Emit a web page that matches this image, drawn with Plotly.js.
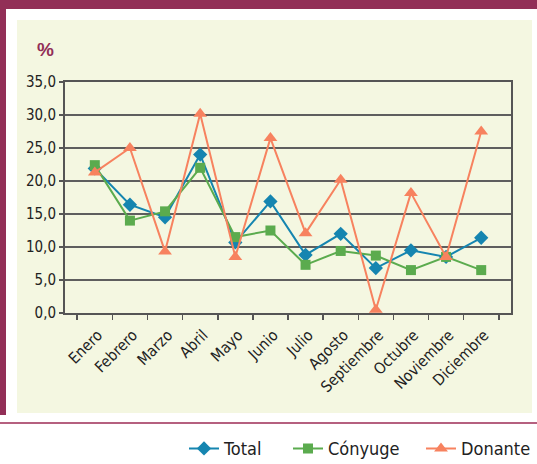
<!DOCTYPE html>
<html><head><meta charset="utf-8">
<script src="https://cdn.plot.ly/plotly-3.0.1.min.js"></script>
<style>
body{margin:0;padding:0;width:537px;height:464px;position:relative;background:#fff;overflow:hidden;font-family:"DejaVu Sans Condensed",sans-serif;}
#topbar{position:absolute;left:0;top:0;width:537px;height:9px;background:#922f57;}
#leftbar{position:absolute;left:0;top:0;width:6px;height:415px;background:#922f57;}
#cream{position:absolute;left:17px;top:20px;width:515px;height:393px;background:#f4f7e1;}
#rule{position:absolute;left:0;top:422px;width:537px;height:2px;background:#b5607f;}
#pct{position:absolute;left:37px;top:39px;color:#922f57;font-weight:bold;font-size:19px;font-family:"Liberation Sans",Arial,sans-serif;}
#chart{position:absolute;left:0;top:0;width:537px;height:464px;}
</style></head>
<body>
<div id="topbar"></div><div id="leftbar"></div><div id="cream"></div><div id="rule"></div>
<div id="pct">%</div>
<div id="chart"></div>
<script>
const months = ["Enero","Febrero","Marzo","Abril","Mayo","Junio","Julio","Agosto","Septiembre","Octubre","Noviembre","Diciembre"];
const total =   [21.9,16.4,14.5,24.0,10.7,16.9,8.8,12.0,6.8,9.5,8.5,11.4];
const conyuge = [22.4,14.0,15.4,22.0,11.5,12.5,7.3,9.4,8.7,6.5,8.5,6.5];
const donante = [21.3,25.0,9.3,30.2,8.5,26.5,12.1,20.2,0.5,18.2,8.5,27.5];
const yTicks = [0,5,10,15,20,25,30,35];
const yTickText = yTicks.map(v => v.toFixed(1).replace('.', ','));

const font = '"DejaVu Sans Condensed",sans-serif';
const traces = [
  {x: months, y: total, name: "Total", type: "scatter", mode: "lines+markers", legend: "legend",
   line: {color: "#1585b0", width: 2}, marker: {symbol: "diamond", size: 11, color: "#1585b0"}},
  {x: months, y: conyuge, name: "Cónyuge", type: "scatter", mode: "lines+markers", legend: "legend2",
   line: {color: "#5bab4e", width: 2}, marker: {symbol: "square", size: 10, color: "#5bab4e"}},
  {x: months, y: donante, name: "Donante", type: "scatter", mode: "lines+markers", legend: "legend3",
   line: {color: "#f7825f", width: 2}, marker: {symbol: "triangle-up", size: 12, color: "#f7825f"}}
];
function leg(x) {
  return {orientation: "h", xref: "container", yref: "container", x: x, xanchor: "left",
          y: 0.033, yanchor: "middle", font: {family: font, size: 18, color: "#222"},
          bgcolor: "rgba(0,0,0,0)"};
}
const layout = {
  width: 537, height: 464,
  margin: {l: 65, r: 25.5, t: 82, b: 151},
  paper_bgcolor: "rgba(0,0,0,0)", plot_bgcolor: "#f4f7e1",
  font: {family: font, size: 14, color: "#222"},
  showlegend: true,
  legend: leg(184/537), legend2: leg(288/537), legend3: leg(421/537),
  xaxis: {type: "category", tickangle: -45, tickson: "boundaries", ticks: "outside", ticklen: 5,
          tickcolor: "#555", tickwidth: 1.5, showline: true, linecolor: "#555", linewidth: 2, mirror: true,
          ticklabelstandoff: 5, ticklabelshift: 3,
          showgrid: false, automargin: false, tickfont: {family: font, size: 15.5, color: "#222"}, fixedrange: true},
  yaxis: {range: [0, 35], tickvals: yTicks, ticktext: yTickText, ticks: "outside", ticklen: 4,
          tickcolor: "#555", tickwidth: 1.5, showline: true, linecolor: "#555", linewidth: 2, mirror: true,
          showgrid: true, gridcolor: "#5e5e5e", gridwidth: 2, zeroline: false, automargin: false,
          tickfont: {family: font, size: 15, color: "#222"}, fixedrange: true}
};
Plotly.newPlot("chart", traces, layout, {displayModeBar: false, staticPlot: true});
</script>
</body></html>
